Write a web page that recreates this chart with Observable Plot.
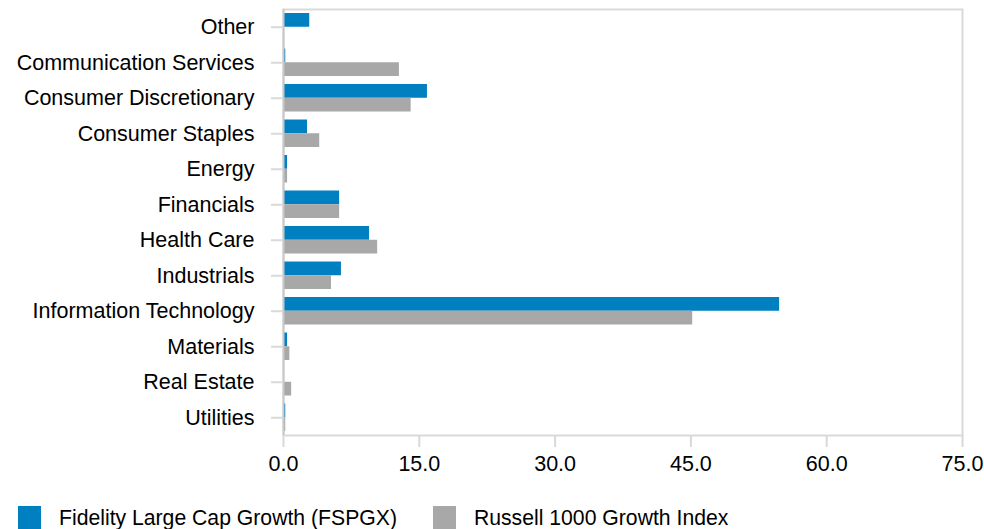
<!DOCTYPE html>
<html>
<head>
<meta charset="utf-8">
<script src="https://cdn.jsdelivr.net/npm/d3@7"></script>
<script src="https://cdn.jsdelivr.net/npm/@observablehq/plot@0.6"></script>
<style>
  html, body { margin: 0; padding: 0; background: #fff; }
  body { font-family: "Liberation Sans", Arial, sans-serif; width: 984px; height: 529px; overflow: hidden; }
  .legend { display: flex; align-items: center; margin-top: 26px; padding-left: 18px; font-size: 21.2px; color: #000; height: 23px; }
  .legend .item { display: flex; align-items: center; margin-right: 36px; }
  .legend .sw { width: 23px; height: 23px; margin-right: 18px; }
</style>
</head>
<body>
<div id="chart"></div>
<script>
const categories = ["Other", "Communication Services", "Consumer Discretionary", "Consumer Staples", "Energy", "Financials", "Health Care", "Industrials", "Information Technology", "Materials", "Real Estate", "Utilities"];
const fundValues  = [2.9, 0.25, 15.9, 2.65, 0.45, 6.2, 9.5, 6.4, 54.8, 0.45, 0, 0.25];
const indexValues = [0, 12.8, 14.1, 4.0, 0.45, 6.2, 10.4, 5.3, 45.2, 0.7, 0.9, 0.25];
const seriesNames = ["Fidelity Large Cap Growth (FSPGX)", "Russell 1000 Growth Index"];
const seriesColors = ["#0080c0", "#a8a8a8"];
const xTicks = [0, 15, 30, 45, 60, 75];

const fundData = categories.map((c, i) => ({category: c, value: fundValues[i]}));
const indexData = categories.map((c, i) => ({category: c, value: indexValues[i]}));

const chart = Plot.plot({
  width: 984,
  height: 480,
  marginTop: 9,
  marginBottom: 45,
  marginLeft: 283,
  marginRight: 22,
  style: {fontFamily: "'Liberation Sans', Arial, sans-serif", fontSize: "21.5px", color: "#000", background: "#fff"},
  x: {domain: [0, 75], ticks: xTicks, tickFormat: d3.format(".1f"), label: null},
  y: {domain: categories, padding: 0, round: false, label: null},
  marks: [
    Plot.frame({stroke: "#d9d9d9", strokeWidth: 2}),
    Plot.barX(fundData, {x: "value", y: "category", fill: seriesColors[0], insetTop: 4, insetBottom: 17.75}),
    Plot.barX(indexData, {x: "value", y: "category", fill: seriesColors[1], insetTop: 17.75, insetBottom: 4}),
    Plot.ruleX([0], {stroke: "#c8c8c8", strokeWidth: 2}),
    Plot.axisY({tickSize: 12, tickPadding: 17, stroke: "#d9d9d9", strokeWidth: 2, fill: "#000", fontSize: 21.5, label: null}),
    Plot.axisX({ticks: xTicks, tickFormat: d3.format(".1f"), tickSize: 12, tickPadding: 8, stroke: "#d9d9d9", strokeWidth: 2, fill: "#000", fontSize: 21.5, label: null})
  ]
});
document.getElementById("chart").appendChild(chart);

const legend = document.createElement("div");
legend.className = "legend";
seriesNames.forEach((name, i) => {
  const item = document.createElement("div");
  item.className = "item";
  const sw = document.createElement("span");
  sw.className = "sw";
  sw.style.background = seriesColors[i];
  const label = document.createElement("span");
  label.textContent = name;
  item.appendChild(sw);
  item.appendChild(label);
  legend.appendChild(item);
});
document.body.appendChild(legend);
</script>
</body>
</html>
